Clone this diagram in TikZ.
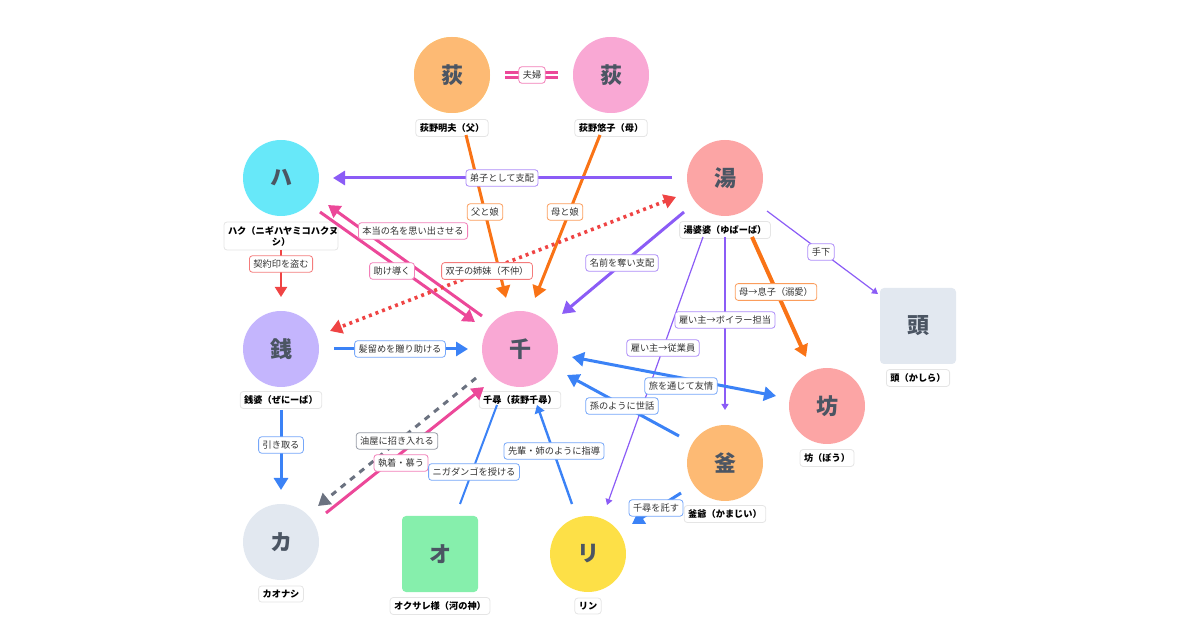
\documentclass[tikz,border=0pt]{standalone}
\usepackage{fontspec}
\setmainfont{Noto Sans CJK JP}
\usetikzlibrary{arrows.meta}
\definecolor{ink}{HTML}{4B5563}
\definecolor{cOr}{HTML}{F97316}
\definecolor{cPk}{HTML}{EC4899}
\definecolor{cPu}{HTML}{8B5CF6}
\definecolor{cRd}{HTML}{EF4444}
\definecolor{cBl}{HTML}{3B82F6}
\definecolor{cGy}{HTML}{6B7280}
\tikzset{
 per/.style={circle,minimum size=38pt,inner sep=0pt,text=ink,font=\fontsize{11}{11}\selectfont\bfseries},
 sq/.style={rectangle,rounded corners=2pt,minimum size=38pt,inner sep=0pt,text=ink,font=\fontsize{11}{11}\selectfont\bfseries},
 nm/.style={fill=white,draw=black!10,rounded corners=1.5pt,font=\fontsize{4.6}{5.5}\selectfont\bfseries,inner sep=2pt,align=center},
 lb/.style={fill=white,draw=#1!70,rounded corners=1.5pt,font=\fontsize{4.6}{5}\selectfont,inner sep=2pt,text=black!80},
 ar/.style={-{Triangle[length=6pt,width=7pt]}},
 thk/.style={line width=1.5pt},
 thn/.style={line width=0.6pt,-{Triangle[length=3pt,width=3.5pt]}},
}
\begin{document}
\begin{tikzpicture}[x=0.5pt,y=-0.5pt]
\useasboundingbox (0,0) rectangle (1200,630);
% nodes
\node[per,fill=orange!50!yellow!60] (fa) at (452,75) {荻};
\node[per,fill=pink!60!magenta!40] (mo) at (611,75) {荻};
\node[per,fill={rgb,255:red,103;green,232;blue,249}] (ha) at (281,178) {ハ};
\node[per,fill={rgb,255:red,252;green,165;blue,165}] (yu) at (725,178) {湯};
\node[per,fill={rgb,255:red,196;green,181;blue,253}] (ze) at (281,349) {銭};
\node[per,fill={rgb,255:red,249;green,168;blue,212}] (ch) at (520,349) {千};
\node[sq,fill={rgb,255:red,226;green,232;blue,240}] (ka2) at (918,326) {頭};
\node[per,fill={rgb,255:red,252;green,165;blue,165}] (bo) at (827,406) {坊};
\node[per,fill={rgb,255:red,253;green,186;blue,116}] (ka) at (725,463) {釜};
\node[per,fill={rgb,255:red,226;green,232;blue,240}] (kn) at (281,542) {カ};
\node[sq,fill={rgb,255:red,134;green,239;blue,172}] (ok) at (440,554) {オ};
\node[per,fill={rgb,255:red,253;green,224;blue,71}] (ri) at (588,554) {リ};
\node[per,fill={rgb,255:red,253;green,186;blue,116}] at (452,75) {荻};
\node[per,fill={rgb,255:red,249;green,168;blue,212}] at (611,75) {荻};
% name labels
\node[nm] (lfa) at (452,128) {荻野明夫（父）};
\node[nm] (lmo) at (611,128) {荻野悠子（母）};
\node[nm,text width=106pt*0.5*2/2] (lha) at (281,236) {ハク（ニギハヤミコハクヌ\\シ）};
\node[nm] (lyu) at (725,230) {湯婆婆（ゆばーば）};
\node[nm] (lze) at (281,400) {銭婆（ぜにーば）};
\node[nm] (lch) at (520,400) {千尋（荻野千尋）};
\node[nm] (lka2) at (918,378) {頭（かしら）};
\node[nm] (lbo) at (827,458) {坊（ぼう）};
\node[nm] (lka) at (725,514) {釜爺（かまじい）};
\node[nm] (lkn) at (281,594) {カオナシ};
\node[nm] (lok) at (440,606) {オクサレ様（河の神）};
\node[nm] (lri) at (588,606) {リン};
% connector endpoints
\coordinate (a1) at (505,75); \coordinate (b1) at (558,75);
\coordinate (a2) at (466,135); \coordinate (b2) at (506,298);
\coordinate (a3) at (600,135); \coordinate (b3) at (535,298);
\coordinate (a4) at (672,178); \coordinate (b4) at (333,178);
\coordinate (a5) at (320,212); \coordinate (b5) at (475,322);
\coordinate (a6) at (482,316); \coordinate (b6) at (328,205);
\coordinate (a7) at (676,197); \coordinate (b7) at (330,331);
\coordinate (a8) at (281,250); \coordinate (b8) at (281,297);
\coordinate (a9) at (684,212); \coordinate (b9) at (562,314);
\coordinate (a10) at (767,211); \coordinate (b10) at (878,294);
\coordinate (a11) at (752,237); \coordinate (b11) at (806,357);
\coordinate (a12) at (725,237); \coordinate (b12) at (725,410);
\coordinate (a13) at (703,237); \coordinate (b13) at (607,505);
\coordinate (a14) at (334,349); \coordinate (b14) at (468,349);
\coordinate (a15) at (572,357); \coordinate (b15) at (776,396);
\coordinate (a16) at (679,436); \coordinate (b16) at (567,375);
\coordinate (a17) at (681,493); \coordinate (b17) at (632,524);
\coordinate (a18) at (281,410); \coordinate (b18) at (281,490);
\coordinate (a19) at (476,378); \coordinate (b19) at (318,506);
\coordinate (a20) at (326,513); \coordinate (b20) at (484,387);
\coordinate (a21) at (460,504); \coordinate (b21) at (497,405);
\coordinate (a22) at (572,504); \coordinate (b22) at (537,405);
% connectors
\draw[cPk,line width=3.6pt] (a1)--(b1);
\draw[white,line width=1.2pt] (a1)--(b1);
\draw[cOr,thk,ar] (a2)--(b2);
\draw[cOr,thk,ar] (a3)--(b3);
\draw[cPu,thk,ar] (a4)--(b4);
\draw[cPk,thk,ar] (a5)--(b5);
\draw[cPk,thk,ar] (a6)--(b6);
\draw[cRd,thk,dotted,line width=1.8pt,{Triangle[length=6pt,width=7pt]}-{Triangle[length=6pt,width=7pt]}] (a7)--(b7);
\draw[cRd,line width=1pt,-{Triangle[length=5pt,width=6pt]}] (a8)--(b8);
\draw[cPu,thk,ar] (a9)--(b9);
\draw[cPu,thn] (a10)--(b10);
\draw[cOr,line width=2pt,ar] (a11)--(b11);
\draw[cPu,thn] (a12)--(b12);
\draw[cPu,thn] (a13)--(b13);
\draw[cBl,thk,ar] (a14)--(b14);
\draw[cBl,thk,{Triangle[length=6pt,width=7pt]}-{Triangle[length=6pt,width=7pt]}] (a15)--(b15);
\draw[cBl,thk,ar] (a16)--(b16);
\draw[cBl,thk,ar] (a17)--(b17);
\draw[cBl,thk,ar] (a18)--(b18);
\draw[cGy,thk,dashed,ar] (a19)--(b19);
\draw[cPk,thk,ar] (a20)--(b20);
\draw[cBl,line width=1pt] (a21)--(b21);
\draw[cBl,line width=1.2pt,-{Triangle[length=4pt,width=5pt]}] (a22)--(b22);
% edge labels
\node[lb=cPk] (e1) at (532,75) {夫婦};
\node[lb=cOr] (e2) at (485,212) {父と娘};
\node[lb=cOr] (e3) at (565,212) {母と娘};
\node[lb=cPu] (e4) at (502,178) {弟子として支配};
\node[lb=cPk] (e5) at (392,271) {助け導く};
\node[lb=cPk] (e6) at (413,231) {本当の名を思い出させる};
\node[lb=cRd] (e7) at (487,271) {双子の姉妹（不仲）};
\node[lb=cRd] (e8) at (281,264) {契約印を盗む};
\node[lb=cPu] (e9) at (622,263) {名前を奪い支配};
\node[lb=cPu] (e10) at (821,252) {手下};
\node[lb=cOr] (e11) at (776,292) {母→息子（溺愛）};
\node[lb=cPu] (e12) at (725,320) {雇い主→ボイラー担当};
\node[lb=cPu] (e13) at (663,348) {雇い主→従業員};
\node[lb=cBl] (e14) at (400,349) {髪留めを贈り助ける};
\node[lb=cBl] (e15) at (681,386) {旅を通じて友情};
\node[lb=cBl] (e16) at (622,406) {孫のように世話};
\node[lb=cBl] (e17) at (656,508) {千尋を託す};
\node[lb=cBl] (e18) at (281,445) {引き取る};
\node[lb=cGy] (e19) at (397,441) {油屋に招き入れる};
\node[lb=cPk] (e20) at (401,463) {執着・慕う};
\node[lb=cBl] (e21) at (474,472) {ニガダンゴを授ける};
\node[lb=cBl] (e22) at (554,451) {先輩・姉のように指導};
\end{tikzpicture}
\end{document}
